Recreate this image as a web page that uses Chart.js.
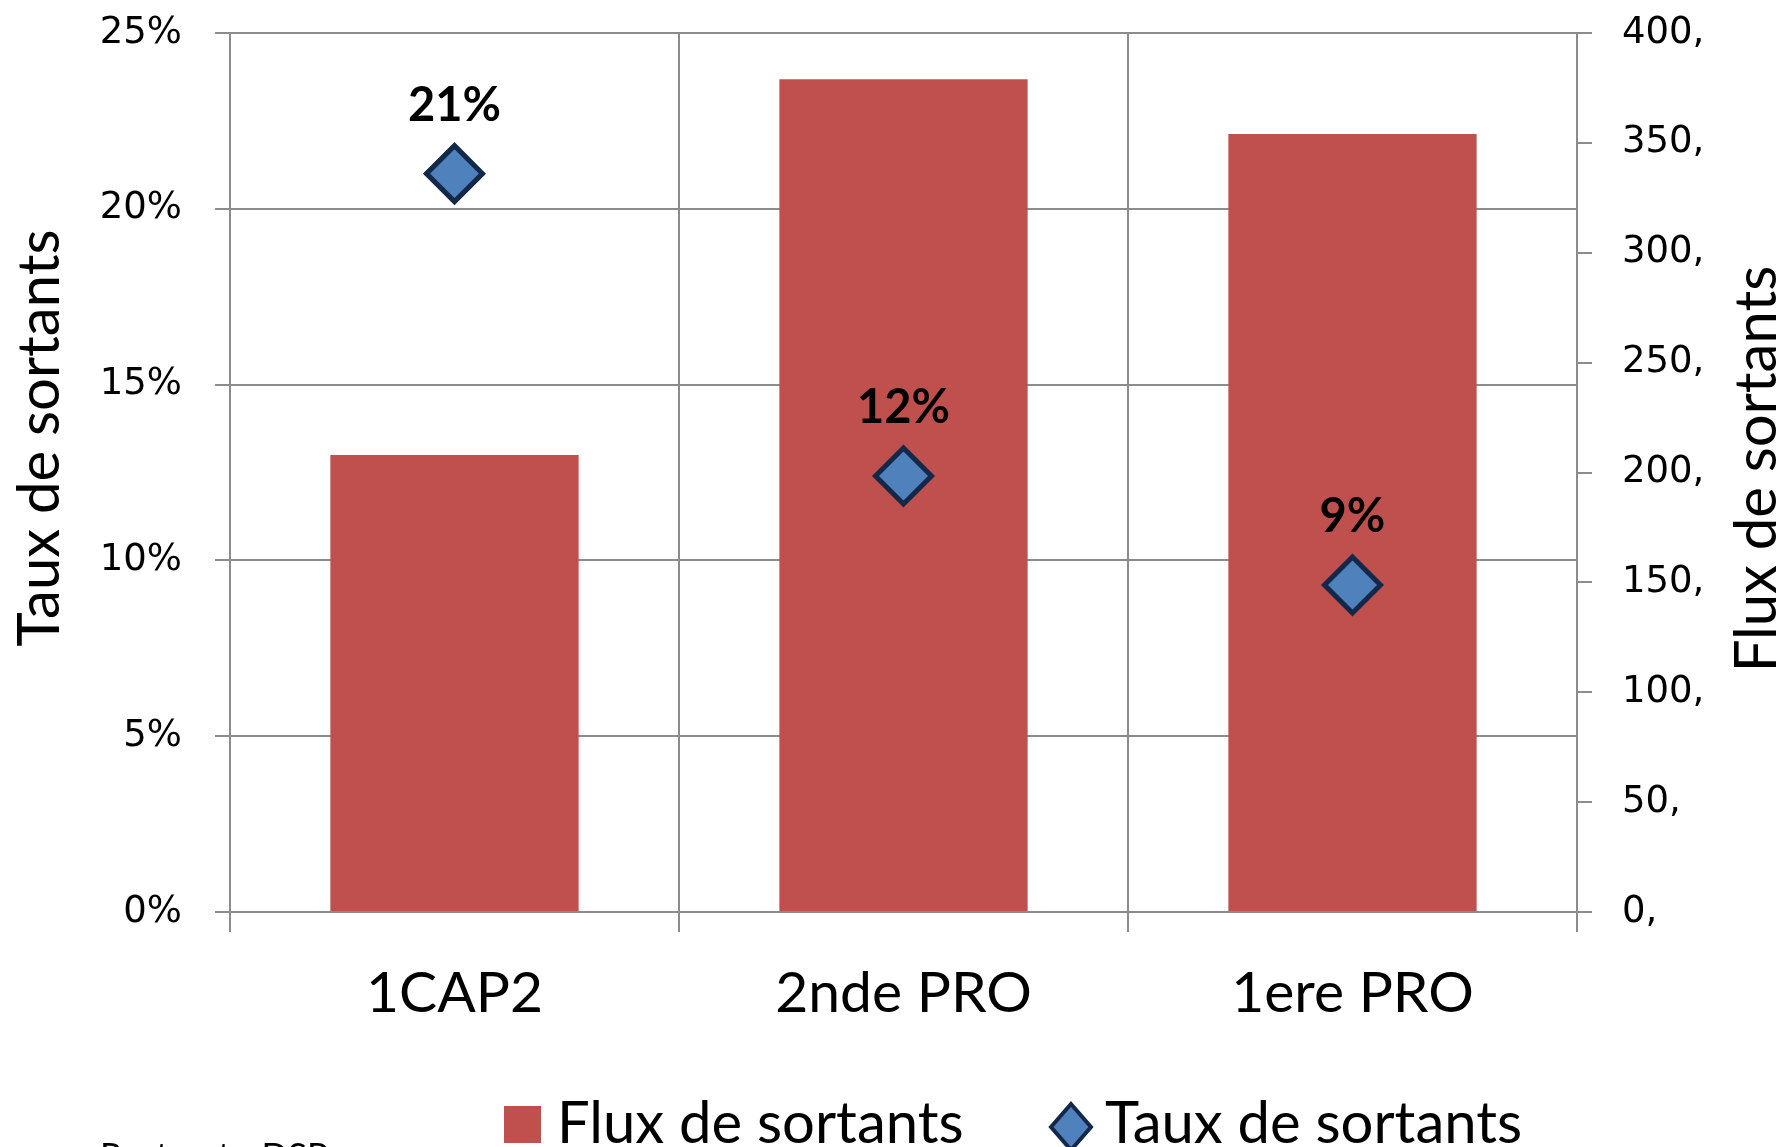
<!DOCTYPE html>
<html>
<head>
<meta charset="utf-8">
<script src="https://cdn.jsdelivr.net/npm/chart.js@4"></script>
<style>
  html, body { margin: 0; padding: 0; background: #ffffff; overflow: hidden; }
  #wrap { width: 1785px; height: 1147px; position: relative; }
</style>
</head>
<body>
<div id="wrap"><canvas id="c" width="1785" height="1147"></canvas></div>
<script>
const categories = ['1CAP2', '2nde PRO', '1ere PRO'];
const fluxSortants = [208, 379, 354];
const tauxSortants = [0.21, 0.124, 0.093];
const leftTickLabels = ['0%', '5%', '10%', '15%', '20%', '25%'];
const rightTickLabels = ['0,', '50,', '100,', '150,', '200,', '250,', '300,', '350,', '400,'];
const seriesNames = ['Flux de sortants', 'Taux de sortants'];
const leftTitle = 'Taux de sortants';
const rightTitle = 'Flux de sortants';
const footnote = 'Rectorat - DSP';

const BAR_COLOR = '#C0504D';
const PT_FILL = '#4F81BD';
const PT_BORDER = '#14294A';
const GRID = '#8C8C8C';
const CAL = 'Lato, "Open Sans", sans-serif';
const TICKF = '"DejaVu Sans", Verdana, sans-serif';

const labelsPlugin = {
  id: 'extras',
  afterDatasetsDraw(chart) {
    const ctx = chart.ctx;
    const meta = chart.getDatasetMeta(1);
    ctx.save();
    ctx.fillStyle = '#000';
    ctx.font = 'bold 47px ' + CAL;
    ctx.textAlign = 'center';
    ctx.textBaseline = 'alphabetic';
    meta.data.forEach((pt, i) => {
      const txt = Math.round(tauxSortants[i] * 100) + '%';
      ctx.fillText(txt, pt.x, pt.y - 53);
    });
    ctx.restore();
  },
  afterDraw(chart) {
    const ctx = chart.ctx;
    ctx.save();
    // axis titles
    ctx.fillStyle = '#000';
    ctx.font = '58px ' + CAL;
    ctx.textAlign = 'center';
    ctx.textBaseline = 'middle';
    ctx.translate(40, 438);
    ctx.rotate(-Math.PI / 2);
    ctx.fillText(leftTitle, 0, 0);
    ctx.setTransform(1, 0, 0, 1, 0, 0);
    ctx.translate(1757, 469);
    ctx.rotate(-Math.PI / 2);
    ctx.fillText(rightTitle, 0, 0);
    ctx.setTransform(1, 0, 0, 1, 0, 0);

    // legend
    ctx.fillStyle = BAR_COLOR;
    ctx.fillRect(504, 1106, 37, 37);
    ctx.fillStyle = '#000';
    ctx.font = '58px ' + CAL;
    ctx.textAlign = 'left';
    ctx.textBaseline = 'alphabetic';
    ctx.fillText(seriesNames[0], 557, 1143);
    // diamond
    ctx.beginPath();
    ctx.moveTo(1071, 1104);
    ctx.lineTo(1091, 1127);
    ctx.lineTo(1071, 1150);
    ctx.lineTo(1051, 1127);
    ctx.closePath();
    ctx.fillStyle = PT_FILL;
    ctx.fill();
    ctx.lineWidth = 4;
    ctx.strokeStyle = PT_BORDER;
    ctx.stroke();
    ctx.fillStyle = '#000';
    ctx.fillText(seriesNames[1], 1105, 1143);

    // footnote (cut at the bottom edge)
    ctx.font = '35px ' + CAL;
    ctx.fillText(footnote, 100, 1168);
    ctx.restore();
  }
};

function fixV(width) {
  return function (scale) {
    scale.width = width;
    scale.paddingTop = 0;
    scale.paddingBottom = 0;
  };
}

new Chart(document.getElementById('c'), {
  type: 'bar',
  data: {
    labels: categories,
    datasets: [
      {
        type: 'bar',
        label: seriesNames[0],
        data: fluxSortants,
        yAxisID: 'y1',
        backgroundColor: BAR_COLOR,
        borderWidth: 0,
        barPercentage: 0.553,
        categoryPercentage: 1.0,
        order: 2
      },
      {
        type: 'line',
        label: seriesNames[1],
        data: tauxSortants,
        yAxisID: 'y',
        showLine: false,
        pointStyle: 'rectRot',
        pointRadius: 28,
        pointHoverRadius: 28,
        pointBackgroundColor: PT_FILL,
        pointBorderColor: PT_BORDER,
        pointBorderWidth: 5,
        order: 1
      }
    ]
  },
  options: {
    responsive: false,
    animation: false,
    events: [],
    layout: { padding: { top: 32, left: 0, right: 0, bottom: 0 } },
    plugins: {
      legend: { display: false },
      tooltip: { enabled: false },
      title: { display: false }
    },
    scales: {
      x: {
        offset: true,
        grid: {
          display: true,
          offset: true,
          color: GRID,
          lineWidth: 2,
          tickLength: 20,
          drawOnChartArea: true
        },
        border: { display: true, color: GRID, width: 2 },
        ticks: {
          color: '#000',
          font: { family: CAL, size: 57 },
          padding: 27,
          maxRotation: 0
        },
        afterFit(scale) {
          scale.height = 235;
          scale.paddingLeft = 0;
          scale.paddingRight = 0;
        }
      },
      y: {
        position: 'left',
        min: 0,
        max: 0.25,
        ticks: {
          stepSize: 0.05,
          color: '#000',
          font: { family: TICKF, size: 37 },
          padding: 33,
          callback: (v, i) => leftTickLabels[i]
        },
        grid: { color: GRID, lineWidth: 2, tickLength: 15 },
        border: { display: true, color: GRID, width: 2 },
        afterFit: fixV(230)
      },
      y1: {
        position: 'right',
        min: 0,
        max: 400,
        ticks: {
          stepSize: 50,
          color: '#000',
          font: { family: TICKF, size: 37 },
          padding: 30,
          callback: (v, i) => rightTickLabels[i]
        },
        grid: { drawOnChartArea: false, color: GRID, lineWidth: 2, tickLength: 15 },
        border: { display: true, color: GRID, width: 2 },
        afterFit: fixV(208)
      }
    }
  },
  plugins: [labelsPlugin]
});
</script>
</body>
</html>
